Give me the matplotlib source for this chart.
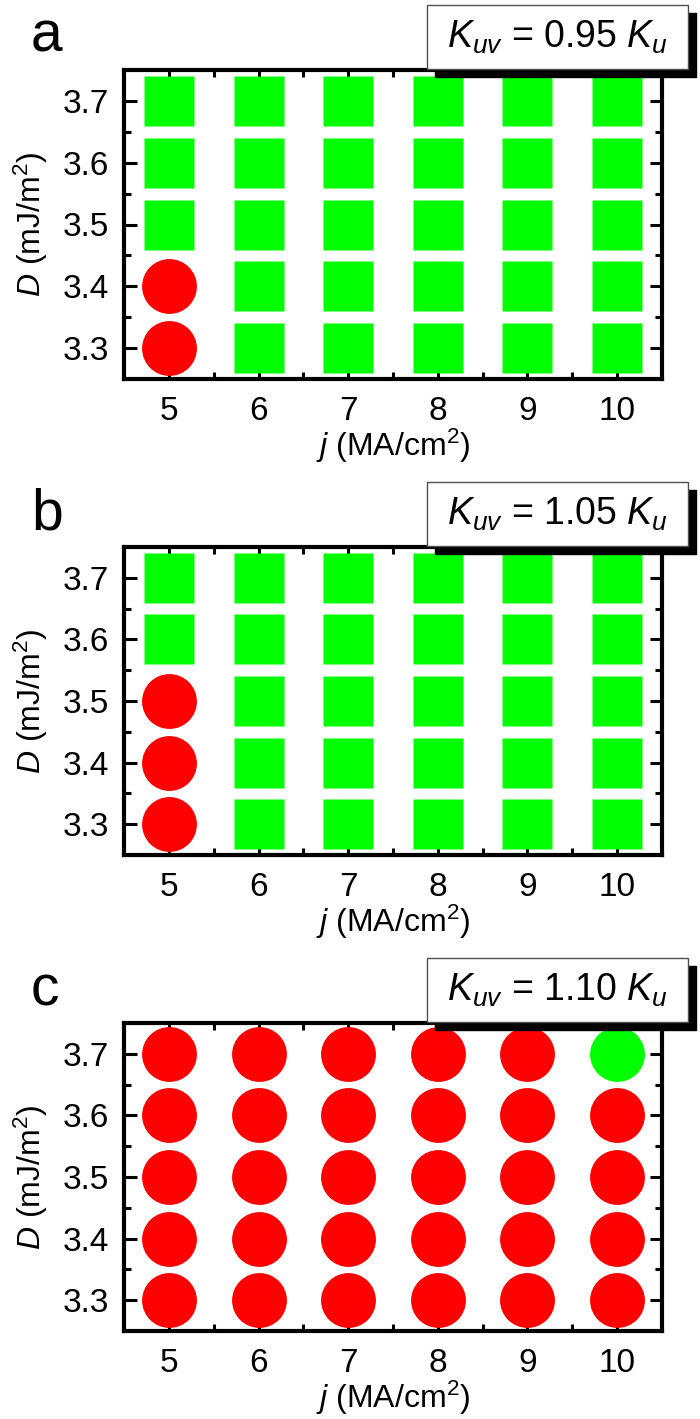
import matplotlib
matplotlib.use('Agg')
import matplotlib.pyplot as plt
from matplotlib.patches import Rectangle

plt.rcParams['font.family'] = ['Liberation Sans', 'DejaVu Sans']
plt.rcParams['mathtext.fontset'] = 'custom'
plt.rcParams['mathtext.rm'] = 'Liberation Sans'
plt.rcParams['mathtext.it'] = 'Liberation Sans:italic'

# data
j_vals = [5, 6, 7, 8, 9, 10]
D_vals = [3.3, 3.4, 3.5, 3.6, 3.7]
panel_letters = ['a', 'b', 'c']
panel_titles = [r'$K_{uv}$ = 0.95 $K_u$', r'$K_{uv}$ = 1.05 $K_u$', r'$K_{uv}$ = 1.10 $K_u$']
# rows go from D=3.3 (first) to D=3.7 (last); s = green square, r = red circle, g = green circle
state_a = ['rsssss',
           'rsssss',
           'ssssss',
           'ssssss',
           'ssssss']
state_b = ['rsssss',
           'rsssss',
           'rsssss',
           'ssssss',
           'ssssss']
state_c = ['rrrrrr',
           'rrrrrr',
           'rrrrrr',
           'rrrrrr',
           'rrrrrg']
states = [state_a, state_b, state_c]

W, H = 700, 1419
fig = plt.figure(figsize=(W / 100, H / 100), dpi=100)

# axes boxes in pixels: left, top, right, bottom
boxes = [(124, 70, 662, 379), (124, 547, 662, 855), (124, 1023, 662, 1331)]

styles = {'s': dict(marker='s', color='#00ff00', ms=35.5),
          'r': dict(marker='o', color='#ff0000', ms=39.5),
          'g': dict(marker='o', color='#00ff00', ms=39.5)}

titles = []
for k in range(3):
    l, t, r, b = boxes[k]
    ax = fig.add_axes([l / W, 1 - b / H, (r - l) / W, (b - t) / H])
    st = states[k]
    for key in 'srg':
        xs, ys = [], []
        for i in range(len(D_vals)):
            for jj in range(len(j_vals)):
                if st[i][jj] == key:
                    xs.append(j_vals[jj])
                    ys.append(D_vals[i])
        if xs:
            ax.plot(xs, ys, linestyle='none', mec='none', zorder=3, clip_on=False, **styles[key])
    ax.set_xlim(4.5, 10.5)
    ax.set_ylim(3.25, 3.75)
    ax.set_xticks(j_vals)
    ax.set_xticks([5.5, 6.5, 7.5, 8.5, 9.5], minor=True)
    ax.set_yticks(D_vals)
    ax.set_yticks([3.35, 3.45, 3.55, 3.65], minor=True)
    ax.set_yticklabels(['%.1f' % d for d in D_vals])
    ax.tick_params(which='both', direction='in', top=True, right=True, width=2.2, labelsize=24)
    ax.tick_params(which='major', length=9)
    ax.tick_params(which='minor', length=5)
    ax.tick_params(axis='x', pad=12)
    ax.tick_params(axis='y', pad=11)
    for sp in ax.spines.values():
        sp.set_linewidth(3)
    ax.set_xlabel(r'$j$ (MA/cm$^2$)', fontsize=23, labelpad=0)
    ax.set_ylabel(r'$D$ (mJ/m$^2$)', fontsize=23, labelpad=9)

    # panel letter
    fig.text(31 / W, 1 - (t - 18) / H, panel_letters[k], fontsize=41, ha='left', va='baseline')

    # title text, its box is drawn after layout is known
    tt = fig.text(447 / W, 1 - (t - 33) / H, panel_titles[k], fontsize=27,
                  ha='left', va='center', zorder=5)
    titles.append(tt)

fig.canvas.draw()
renderer = fig.canvas.get_renderer()
inv = fig.transFigure.inverted()
padx, pady, shift = 20, 13, 8
for tt in titles:
    bb = tt.get_window_extent(renderer)
    x0, y0 = inv.transform((bb.x0 - padx, bb.y0 - pady))
    x1, y1 = inv.transform((bb.x1 + padx, bb.y1 + pady))
    sx, sy = shift / W, shift / H
    fig.add_artist(Rectangle((x0 + sx, y0 - sy), x1 - x0, y1 - y0, transform=fig.transFigure,
                             fc='black', ec='black', zorder=3))
    fig.add_artist(Rectangle((x0, y0), x1 - x0, y1 - y0, transform=fig.transFigure,
                             fc='white', ec='#505050', lw=1, zorder=4))

fig.savefig('out.png', dpi=100)
